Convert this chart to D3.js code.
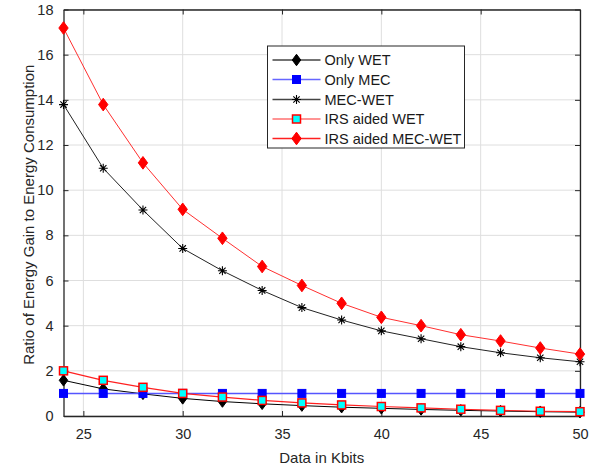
<!DOCTYPE html>
<html>
<head>
<meta charset="utf-8">
<script src="https://cdn.jsdelivr.net/npm/d3@7"></script>
<style>
  html, body { margin: 0; padding: 0; background: #fff; }
  svg { display: block; font-family: "Liberation Sans", Arial, sans-serif; }
</style>
</head>
<body>
<svg id="chart" width="589" height="472"></svg>
<script>
const dataKbits = [24, 26, 28, 30, 32, 34, 36, 38, 40, 42, 44, 46, 48, 50];
const onlyWET = [1.58, 1.2, 0.98, 0.78, 0.64, 0.54, 0.46, 0.39, 0.34, 0.29, 0.25, 0.22, 0.19, 0.17];
const onlyMEC = [1, 1, 1, 1, 1, 1, 1, 1, 1, 1, 1, 1, 1, 1];
const mecWET = [13.79, 10.97, 9.12, 7.42, 6.43, 5.56, 4.8, 4.25, 3.77, 3.42, 3.07, 2.8, 2.58, 2.4];
const irsWET = [2.0, 1.58, 1.27, 1.0, 0.84, 0.69, 0.58, 0.49, 0.42, 0.36, 0.3, 0.25, 0.21, 0.19];
const irsMecWET = [17.18, 13.79, 11.21, 9.15, 7.87, 6.62, 5.78, 4.99, 4.37, 4.0, 3.6, 3.32, 3.01, 2.74];
const xTicks = [25, 30, 35, 40, 45, 50];
const yTicks = [0, 2, 4, 6, 8, 10, 12, 14, 16, 18];
const seriesNames = ["Only WET", "Only MEC", "MEC-WET", "IRS aided WET", "IRS aided MEC-WET"];
const xLabel = "Data in Kbits";
const yLabel = "Ratio of Energy Gain to Energy Consumption";

const series = [
  { name: seriesNames[0], values: onlyWET, line: "#000000", marker: "diamond", fill: "#000000", stroke: "#000000", size: 10, lw: 1 },
  { name: seriesNames[1], values: onlyMEC, line: "#5555ff", marker: "square", fill: "#0000ff", stroke: "#0000ff", size: 8, lw: 1.5 },
  { name: seriesNames[2], values: mecWET, line: "#222222", marker: "star", fill: "none", stroke: "#000000", size: 9, lw: 1 },
  { name: seriesNames[3], values: irsWET, line: "#ff2020", marker: "square", fill: "#00ffff", stroke: "#ff0000", size: 8, lw: 1.2 },
  { name: seriesNames[4], values: irsMecWET, line: "#ff3030", marker: "diamond", fill: "#ff0000", stroke: "#ff0000", size: 11, lw: 1 }
];

const svg = d3.select("#chart");
const L = 63.5, R = 580, T = 9.5, B = 416;
const x = d3.scaleLinear().domain([24, 50]).range([L, R]);
const y = d3.scaleLinear().domain([0, 18]).range([B, T]);
const axisColor = "#262626";

// grid
const g = svg.append("g");
g.selectAll(".gx").data(xTicks).enter().append("line")
  .attr("x1", d => x(d)).attr("x2", d => x(d)).attr("y1", T).attr("y2", B)
  .attr("stroke", "#dedede").attr("stroke-width", 1);
g.selectAll(".gy").data(yTicks).enter().append("line")
  .attr("x1", L).attr("x2", R).attr("y1", d => y(d)).attr("y2", d => y(d))
  .attr("stroke", "#dedede").attr("stroke-width", 1);

// axes
const xAxis = d3.axisBottom(x).tickValues(xTicks).tickSizeInner(-5).tickSizeOuter(0).tickPadding(13);
const yAxis = d3.axisLeft(y).tickValues(yTicks).tickSizeInner(-5).tickSizeOuter(0).tickPadding(10);
const xTop = d3.axisTop(x).tickValues(xTicks).tickSizeInner(-5).tickSizeOuter(0).tickFormat("");
const yRight = d3.axisRight(y).tickValues(yTicks).tickSizeInner(-5).tickSizeOuter(0).tickFormat("");

function styleAxis(sel) {
  sel.select(".domain").attr("stroke", axisColor).attr("stroke-width", 1.3);
  sel.selectAll(".tick line").attr("stroke", axisColor);
  sel.selectAll(".tick text").attr("fill", axisColor).attr("font-size", 14.5)
    .attr("font-family", "Liberation Sans, Arial, sans-serif");
}
svg.append("g").attr("transform", `translate(0,${B})`).call(xAxis).call(styleAxis);
svg.append("g").attr("transform", `translate(${L},0)`).call(yAxis).call(styleAxis);
svg.append("g").attr("transform", `translate(0,${T})`).call(xTop).call(styleAxis);
svg.append("g").attr("transform", `translate(${R},0)`).call(yRight).call(styleAxis);

// labels
svg.append("text").attr("x", (L + R) / 2).attr("y", 463).attr("text-anchor", "middle")
  .attr("font-size", 15).attr("fill", axisColor).text(xLabel);
svg.append("text").attr("transform", `translate(34,${(T + B) / 2 + 2}) rotate(-90)`)
  .attr("text-anchor", "middle").attr("font-size", 15).attr("fill", axisColor).text(yLabel);

// markers
function drawMarker(sel, s, cx, cy) {
  const h = s.size / 2;
  if (s.marker === "diamond") {
    sel.append("path")
      .attr("d", `M${cx},${cy - h * 1.15}L${cx + h * 0.85},${cy}L${cx},${cy + h * 1.15}L${cx - h * 0.85},${cy}Z`)
      .attr("fill", s.fill).attr("stroke", s.stroke).attr("stroke-width", 1);
  } else if (s.marker === "square") {
    sel.append("rect").attr("x", cx - h).attr("y", cy - h).attr("width", s.size).attr("height", s.size)
      .attr("fill", s.fill).attr("stroke", s.stroke).attr("stroke-width", s.fill === "#00ffff" ? 1.5 : 1);
  } else if (s.marker === "star") {
    const a = h, b = h * 0.707;
    sel.append("path")
      .attr("d", `M${cx - a},${cy}L${cx + a},${cy}M${cx},${cy - a}L${cx},${cy + a}M${cx - b},${cy - b}L${cx + b},${cy + b}M${cx - b},${cy + b}L${cx + b},${cy - b}`)
      .attr("stroke", s.stroke).attr("stroke-width", 1.1).attr("fill", "none");
  }
}

const line = d3.line().x((d, i) => x(dataKbits[i])).y(d => y(d));
const plot = svg.append("g");
series.forEach(s => {
  const gs = plot.append("g");
  gs.append("path").datum(s.values).attr("d", line)
    .attr("fill", "none").attr("stroke", s.line).attr("stroke-width", s.lw);
  s.values.forEach((v, i) => drawMarker(gs, s, x(dataKbits[i]), y(v)));
});

// legend
const lg = svg.append("g");
const lx = 267.5, ly = 46, lw = 197, lh = 102;
lg.append("rect").attr("x", lx).attr("y", ly).attr("width", lw).attr("height", lh)
  .attr("fill", "#fff").attr("stroke", axisColor).attr("stroke-width", 1);
const rowY = [60, 79.5, 99.5, 119, 138.5];
const legendLine = ["#444444", "#6666ff", "#444444", "#ff7070", "#ff2020"];
series.forEach((s, i) => {
  const yy = rowY[i];
  lg.append("line").attr("x1", 272.5).attr("x2", 320.5).attr("y1", yy).attr("y2", yy)
    .attr("stroke", legendLine[i]).attr("stroke-width", 1.3);
  drawMarker(lg, s, 296.5, yy);
  lg.append("text").attr("x", 324.5).attr("y", yy + 5).attr("font-size", 14.5)
    .attr("fill", "#1a1a1a").text(s.name);
});
</script>
</body>
</html>
